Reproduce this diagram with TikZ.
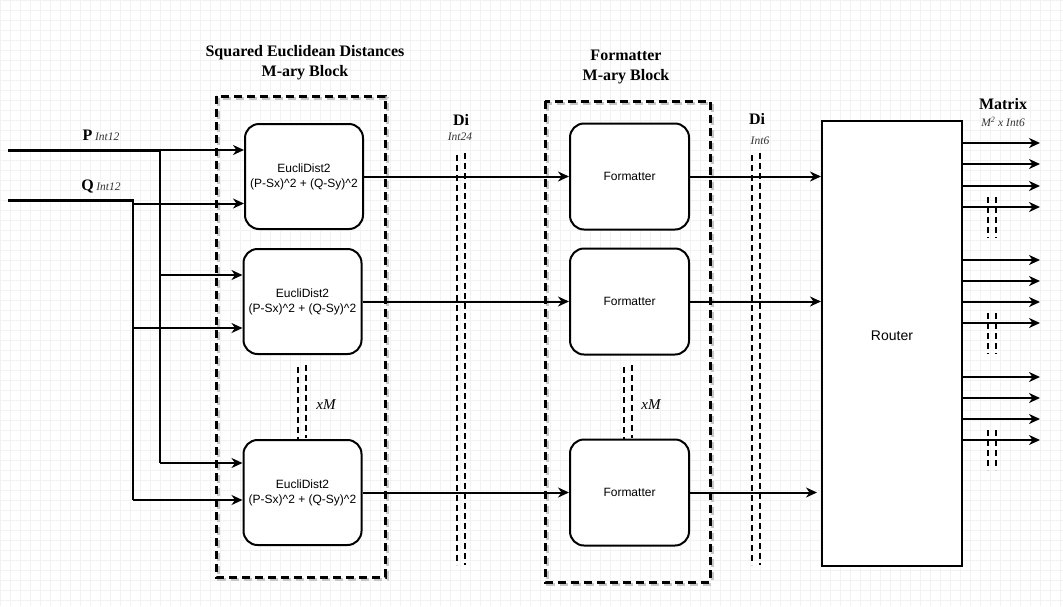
\documentclass[tikz,border=0pt]{standalone}
\usepackage{fontspec}
\setmainfont{Liberation Serif}
\newfontfamily\arial{Liberation Sans}
\usetikzlibrary{arrows.meta}
\begin{document}
\begin{tikzpicture}[x=1pt,y=-1pt,
  gridline/.style={draw=black!5, line width=0.5pt},
  blk/.style={draw, line width=2pt, rounded corners=14pt, fill=white, minimum width=118pt, minimum height=105pt, font=\arial\fontsize{12}{15}\selectfont, align=center, inner sep=0pt},
  mary/.style={line width=3pt, dash pattern=on 8pt off 5pt},
  maryshadow/.style={draw=black!22, line width=3pt, dash pattern=on 8pt off 5pt},
  sig/.style={line width=2pt, -{Stealth[length=11pt,width=10pt,inset=3.5pt]}},
  wire/.style={line width=2pt},
  pairline/.style={line width=2.2pt, dash pattern=on 6pt off 4pt},
  ttl/.style={font=\bfseries\fontsize{16}{20}\selectfont, align=center},
  typ/.style={font=\itshape\fontsize{11.5}{13}\selectfont, text=black!80},
  xm/.style={font=\itshape\fontsize{15}{17}\selectfont},
]
\useasboundingbox (0,0) rectangle (1063,606);
\fill[white] (0,0) rectangle (1063,606);
% background grid
\foreach \x in {0,10,...,1060} \draw[gridline] (\x,0) -- (\x,606);
\foreach \y in {0,10,...,600} \draw[gridline] (0,\y) -- (1063,\y);

% titles
\node[ttl] (t1) at (305,63) {Squared Euclidean Distances\\M-ary Block};
\node[ttl] (t2) at (626,67) {Formatter\\M-ary Block};

% dashed M-ary blocks
\draw[maryshadow] (218,98) rectangle (387,579);
\draw[mary] (216,96) rectangle (385,577);
\draw[maryshadow] (547,103) rectangle (712,584);
\draw[mary] (545,101) rectangle (710,582);

% EucliDist2 blocks
\node[blk] (e1) at (304,176.5) {EucliDist2\\(P-Sx)\textasciicircum 2 + (Q-Sy)\textasciicircum 2};
\node[blk] (e2) at (302.5,301.5) {EucliDist2\\(P-Sx)\textasciicircum 2 + (Q-Sy)\textasciicircum 2};
\node[blk] (e3) at (302.5,492.5) {EucliDist2\\(P-Sx)\textasciicircum 2 + (Q-Sy)\textasciicircum 2};

% Formatter blocks
\node[blk, minimum width=119pt, minimum height=106pt] (f1) at (629.5,176.5) {Formatter};
\node[blk, minimum width=119pt, minimum height=106pt] (f2) at (629.5,301.5) {Formatter};
\node[blk, minimum width=119pt, minimum height=106pt] (f3) at (629.5,492.5) {Formatter};

% Router
\node[draw, line width=2pt, fill=white, minimum width=140pt, minimum height=445pt, inner sep=0pt] (router) at (892,343.5) {};
\node[font=\arial\fontsize{14}{16}\selectfont] (rlabel) at (892,336) {Router};

% inputs P and Q
\node (plabel) at (101,135) {{\bfseries\fontsize{16}{17}\selectfont P} {\itshape\fontsize{11.5}{13}\selectfont\color{black!80}Int12}};
\node (qlabel) at (101,186) {{\bfseries\fontsize{16}{17}\selectfont Q} {\itshape\fontsize{11.5}{13}\selectfont\color{black!80}Int12}};
\coordinate (pin) at (8,150);
\coordinate (pj) at (160,150);
\coordinate (p2) at (160,275);
\coordinate (pb) at (160,463);
\coordinate (qin) at (8,200.5);
\coordinate (qj) at (133,200.5);
\coordinate (q1) at (133,203.5);
\coordinate (q2) at (133,328);
\coordinate (qb) at (133,500);
\draw[line width=3pt] (pin) -- (pj);
\draw[wire] (pj) -- (pb);
\draw[sig] (pj) -- (pj -| e1.west);
\draw[sig] (p2) -- (p2 -| e2.west);
\draw[sig] (pb) -- (pb -| e3.west);
\draw[line width=2.2pt] (qin) -- (qj) -- (qb);
\draw[sig] (q1) -- (q1 -| e1.west);
\draw[sig] (q2) -- (q2 -| e2.west);
\draw[sig] (qb) -- (qb -| e3.west);

% Euclid -> Formatter
\draw[sig] (e1.east) -- (f1.west);
\draw[sig] (e2.east) -- (f2.west);
\draw[sig] (e3.east) -- (f3.west);

% Formatter -> Router
\coordinate (r3) at (817,492.5);
\draw[sig] (f1.east) -- (f1.east -| router.west);
\draw[sig] (f2.east) -- (f2.east -| router.west);
\draw[sig] (f3.east) -- (r3);

% Router outputs
\foreach \y [count=\i] in {143,164,186,207,260,281,302,323,377,398,419,440} {
  \coordinate (o\i) at (1040,\y);
  \draw[sig] (o\i -| router.east) -- (o\i);
}
\foreach \a/\b in {197/238,313/354,430/470} {
  \draw[pairline] (988,\a) -- (988,\b);
  \draw[pairline] (996,\a) -- (996,\b);
}

% Di labels and dashed pairs
\node[ttl] (di1) at (461,120) {Di};
\node[typ] (ty1) at (460,137) {Int24};
\draw[pairline] (457,155) -- (457,565);
\draw[pairline] (465,153) -- (465,565);
\node[ttl] (di2) at (757,119) {Di};
\node[typ] (ty2) at (760,141) {Int6};
\draw[pairline] (752,155) -- (752,565);
\draw[pairline] (760,153) -- (760,565);

\node[ttl] (mx) at (1003,104) {Matrix};
\node[typ] (mxt) at (1003,122) {M\textsuperscript{2} x Int6};

% xM replication marks
\draw[pairline] (298,367) -- (298,440);
\draw[pairline] (306,365) -- (306,438);
\node[xm] (xm1) at (326,405) {xM};
\draw[pairline] (624,367) -- (624,440);
\draw[pairline] (632,365) -- (632,438);
\node[xm] (xm2) at (651,405) {xM};
\end{tikzpicture}
\end{document}
